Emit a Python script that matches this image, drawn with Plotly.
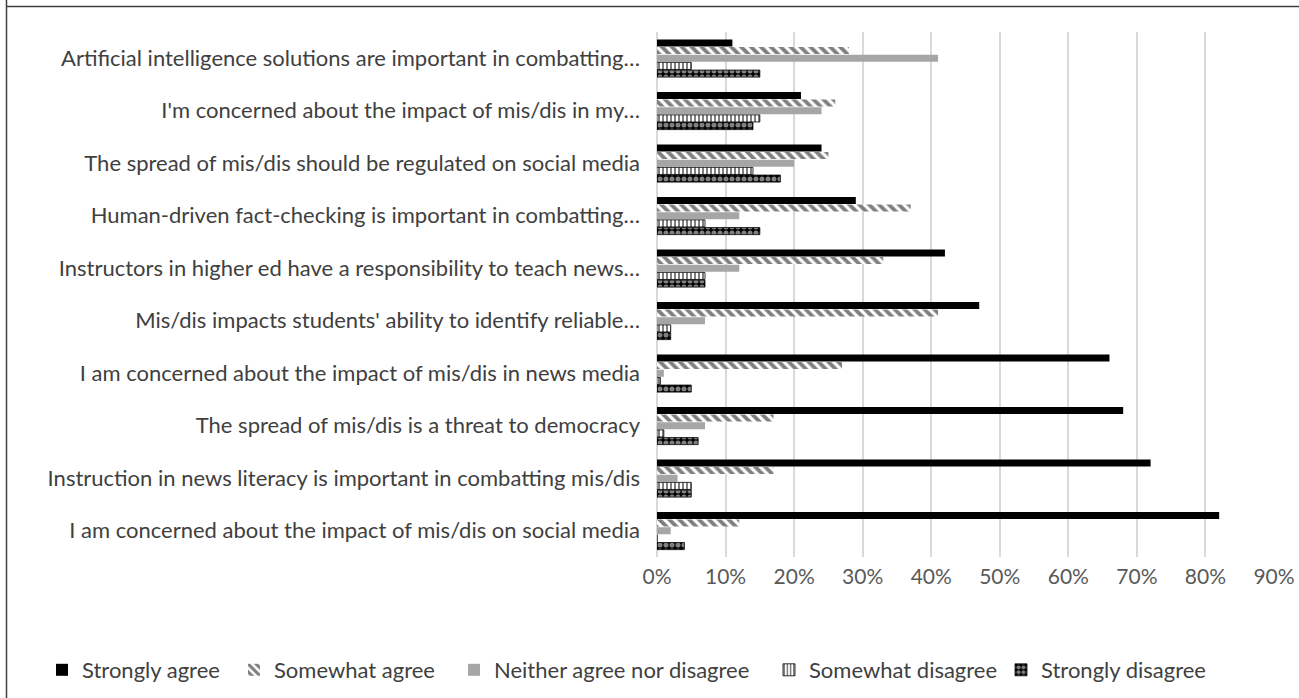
import plotly.graph_objects as go

categories = [
    "Artificial intelligence solutions are important in combatting…",
    "I'm concerned about the impact of mis/dis in my…",
    "The spread of mis/dis should be regulated on social media",
    "Human-driven fact-checking is important in combatting…",
    "Instructors in higher ed have a responsibility to teach news…",
    "Mis/dis impacts students' ability to identify reliable…",
    "I am concerned about the impact of mis/dis in news media",
    "The spread of mis/dis is a threat to democracy",
    "Instruction in news literacy is important in combatting mis/dis",
    "I am concerned about the impact of mis/dis on social media",
]

strongly_agree = [11, 21, 24, 29, 42, 47, 66, 68, 72, 82]
somewhat_agree = [28, 26, 25, 37, 33, 41, 27, 17, 17, 12]
neither = [41, 24, 20, 12, 12, 7, 1, 7, 3, 2]
somewhat_disagree = [5, 15, 14, 7, 7, 2, 0.5, 1, 5, 0]
strongly_disagree = [15, 14, 18, 15, 7, 2, 5, 6, 5, 4]

x_ticks = [0, 10, 20, 30, 40, 50, 60, 70, 80, 90]
x_tick_labels = ["0%", "10%", "20%", "30%", "40%", "50%", "60%", "70%", "80%", "90%"]

FONT = "Lato"
W, H = 1299, 698
ML, MR, MT, MB = 657, 25, 32, 141

pw = W - ML - MR
ph = H - MT - MB
def px_x(px):
    return (px - ML) / pw
def px_y(py):
    return (H - MB - py) / ph

series = [
    ("Strongly agree", strongly_agree, dict(color="#000000")),
    ("Somewhat agree", somewhat_agree, dict(color="#ffffff",
        pattern=dict(shape="\\", fgcolor="#000000", bgcolor="#ffffff", size=7, solidity=0.55))),
    ("Neither agree nor disagree", neither, dict(color="#a6a6a6")),
    ("Somewhat disagree", somewhat_disagree, dict(color="#ffffff",
        pattern=dict(shape="|", fgcolor="#000000", bgcolor="#ffffff", size=4, solidity=0.5),
        line=dict(color="#000000", width=0.8))),
    ("Strongly disagree", strongly_disagree, dict(color="#000000",
        pattern=dict(shape=".", fgcolor="#ffffff", bgcolor="#000000", size=6, solidity=0.55),
        line=dict(color="#000000", width=0.8))),
]

# left edge (pixels) of each legend entry
legend_left_px = [42, 234, 454, 769, 1001]
legend_ids = ["legend", "legend2", "legend3", "legend4", "legend5"]

fig = go.Figure()
for (name, vals, marker), lid in zip(series, legend_ids):
    m = dict(marker)
    if "line" not in m:
        m["line"] = dict(width=0)
    fig.add_trace(go.Bar(
        y=categories, x=vals, name=name, orientation="h", marker=m, legend=lid,
    ))

shapes = [
    dict(type="line", xref="paper", yref="paper", x0=px_x(6.5), x1=px_x(6.5),
         y0=px_y(0), y1=px_y(H), line=dict(color="#404040", width=1.5)),
    dict(type="line", xref="paper", yref="paper", x0=px_x(6.5), x1=px_x(W),
         y0=px_y(6.5), y1=px_y(6.5), line=dict(color="#404040", width=1.5)),
]

legend_layout = {}
for lid, left in zip(legend_ids, legend_left_px):
    legend_layout[lid] = dict(
        orientation="h", x=px_x(left), xanchor="left",
        y=px_y(670), yanchor="middle", bgcolor="rgba(0,0,0,0)",
        font=dict(family=FONT, size=22, color="#404040"), itemwidth=30,
    )

fig.update_layout(
    width=W, height=H,
    margin=dict(l=ML, r=MR, t=MT, b=MB, autoexpand=False),
    paper_bgcolor="white", plot_bgcolor="white",
    barmode="group", bargap=0.27, bargroupgap=0.08,
    font=dict(family=FONT, size=22, color="#404040"),
    shapes=shapes,
    showlegend=True,
    xaxis=dict(range=[0, 90], tickvals=x_ticks, ticktext=x_tick_labels,
               showgrid=True, gridcolor="#d9d9d9", gridwidth=1.5,
               zeroline=True, zerolinecolor="#d9d9d9", zerolinewidth=1.5,
               showline=False, ticks="", automargin=False,
               ticklabelstandoff=5,
               tickfont=dict(family=FONT, size=21, color="#595959")),
    yaxis=dict(autorange="reversed", showgrid=False, ticks="", automargin=False,
               ticklabelstandoff=16,
               tickfont=dict(family=FONT, size=22, color="#404040")),
    **legend_layout,
)

fig.write_html("out.html")
